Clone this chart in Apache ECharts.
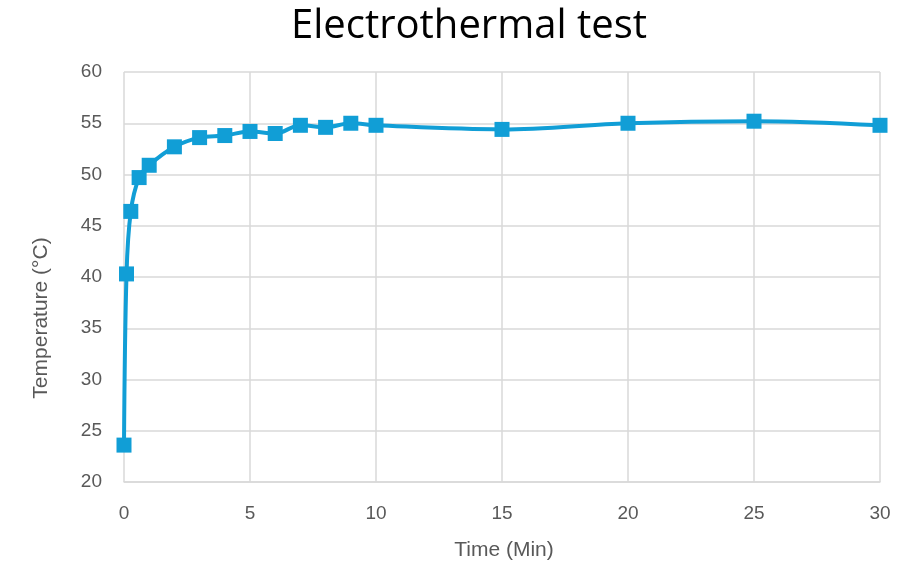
<!DOCTYPE html>
<html>
<head>
<meta charset="utf-8">
<script src="https://cdn.jsdelivr.net/npm/echarts@6/dist/echarts.min.js"></script>
<style>
html,body{margin:0;padding:0;background:#fff;}
#c{width:920px;height:565px;}
</style>
</head>
<body>
<div id="c"></div>
<script>
const timeMin = [0, 0.1, 0.27, 0.6, 1, 2, 3, 4, 5, 6, 7, 8, 9, 10, 15, 20, 25, 30];
const temperature = [23.6, 40.3, 46.4, 49.7, 50.9, 52.7, 53.6, 53.8, 54.2, 54.0, 54.8, 54.6, 55.0, 54.8, 54.4, 55.0, 55.2, 54.8];
const titleText = 'Electrothermal test';
const xTitle = 'Time (Min)';
const yTitle = 'Temperature (°C)';

const chart = echarts.init(document.getElementById('c'));
const titleFont = "'Open Sans', 'Liberation Sans', sans-serif";
const labelFont = "'Liberation Sans', Arial, sans-serif";
chart.setOption({
  animation: false,
  backgroundColor: '#ffffff',
  grid: { left: 124, right: 40, top: 72, bottom: 83 },
  xAxis: {
    type: 'value', min: 0, max: 30, interval: 5,
    axisLine: { show: true, lineStyle: { color: '#d9d9d9', width: 1.5 } },
    axisTick: { show: false },
    axisLabel: { fontFamily: labelFont, fontSize: 19, color: '#595959', margin: 22 },
    splitLine: { show: true, lineStyle: { color: '#d9d9d9', width: 1.5 } }
  },
  yAxis: {
    type: 'value', min: 20, max: 60, interval: 5,
    axisLine: { show: false },
    axisTick: { show: false },
    axisLabel: { fontFamily: labelFont, fontSize: 19, color: '#595959', margin: 22 },
    splitLine: { show: true, lineStyle: { color: '#d9d9d9', width: 1.5 } }
  },
  graphic: [{
    type: 'text',
    x: 469, y: 27,
    style: { text: titleText, fontFamily: titleFont, fontSize: 40, fill: '#000000', textAlign: 'center', textVerticalAlign: 'middle' }
  }, {
    type: 'text',
    x: 41, y: 318,
    rotation: Math.PI / 2,
    style: { text: yTitle, fontFamily: labelFont, fontSize: 21, fill: '#595959', textAlign: 'center', textVerticalAlign: 'middle' }
  }, {
    type: 'text',
    x: 504, y: 550,
    style: { text: xTitle, fontFamily: labelFont, fontSize: 21, fill: '#595959', textAlign: 'center', textVerticalAlign: 'middle' }
  }],
  series: [{
    type: 'line',
    data: timeMin.map((t, i) => [t, temperature[i]]),
    smooth: 0.35,
    symbol: 'rect',
    symbolSize: 15,
    lineStyle: { color: '#119ED6', width: 4 },
    itemStyle: { color: '#119ED6' }
  }]
});
</script>
</body>
</html>
